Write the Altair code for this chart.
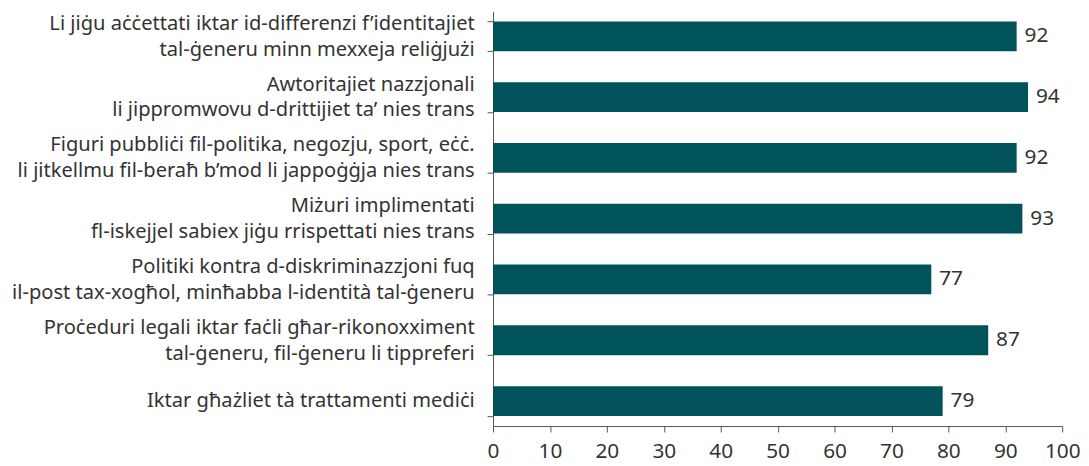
import altair as alt
import pandas as pd

categories = [
    "Li jiġu aċċettati iktar id-differenzi f’identitajiet|tal-ġeneru minn mexxeja reliġjużi",
    "Awtoritajiet nazzjonali|li jippromwovu d-drittijiet ta’ nies trans",
    "Figuri pubbliċi fil-politika, negozju, sport, eċċ.|li jitkellmu fil-beraħ b’mod li jappoġġja nies trans",
    "Miżuri implimentati|fl-iskejjel sabiex jiġu rrispettati nies trans",
    "Politiki kontra d-diskriminazzjoni fuq|il-post tax-xogħol, minħabba l-identità tal-ġeneru",
    "Proċeduri legali iktar faċli għar-rikonoxximent|tal-ġeneru, fil-ġeneru li tippreferi",
    "Iktar għażliet tà trattamenti mediċi",
]
values = [92, 94, 92, 93, 77, 87, 79]
x_ticks = [0, 10, 20, 30, 40, 50, 60, 70, 80, 90, 100]

df = pd.DataFrame({"cat": categories, "val": values})

FONT = "Noto Sans"
TXT = "#333333"
FS_Y = 20.3
FS = 21

y_enc = alt.Y(
    "cat:N",
    sort=categories,
    title=None,
    scale=alt.Scale(paddingInner=0.51, paddingOuter=0.166),
    axis=alt.Axis(
        labelExpr="split(datum.label, '|')",
        labelFontSize=FS_Y,
        labelLineHeight=26,
        labelColor=TXT,
        labelFont=FONT,
        labelPadding=13,
        labelLimit=700,
        labelBaseline="middle",
        labelOffset=alt.condition("indexof(datum.label, '|') >= 0", alt.value(-13), alt.value(0)),
        tickBand="extent",
        tickSize=6,
        tickColor="#555555",
        domainColor="#555555",
    ),
)

x_enc = alt.X(
    "val:Q",
    title=None,
    scale=alt.Scale(domain=[0, 100], nice=False),
    axis=alt.Axis(
        values=x_ticks,
        labelFontSize=FS,
        labelColor=TXT,
        labelFont=FONT,
        labelFlush=False,
        tickSize=6,
        tickColor="#555555",
        domainColor="#555555",
        grid=False,
        labelPadding=9,
    ),
)

bars = alt.Chart(df).mark_bar(color="#00525B").encode(x=x_enc, y=y_enc)
text = alt.Chart(df).mark_text(
    align="left", baseline="middle", dx=8, fontSize=FS, font=FONT, color=TXT
).encode(x="val:Q", y=alt.Y("cat:N", sort=categories), text="val:Q")

chart = (
    (bars + text)
    .properties(
        width=575,
        height=419,
        padding={"left": 3, "top": -9, "right": 0, "bottom": 0},
    )
    .configure_view(stroke=None)
)

chart.save("out.html", embed_options={"renderer": "svg", "actions": False})
